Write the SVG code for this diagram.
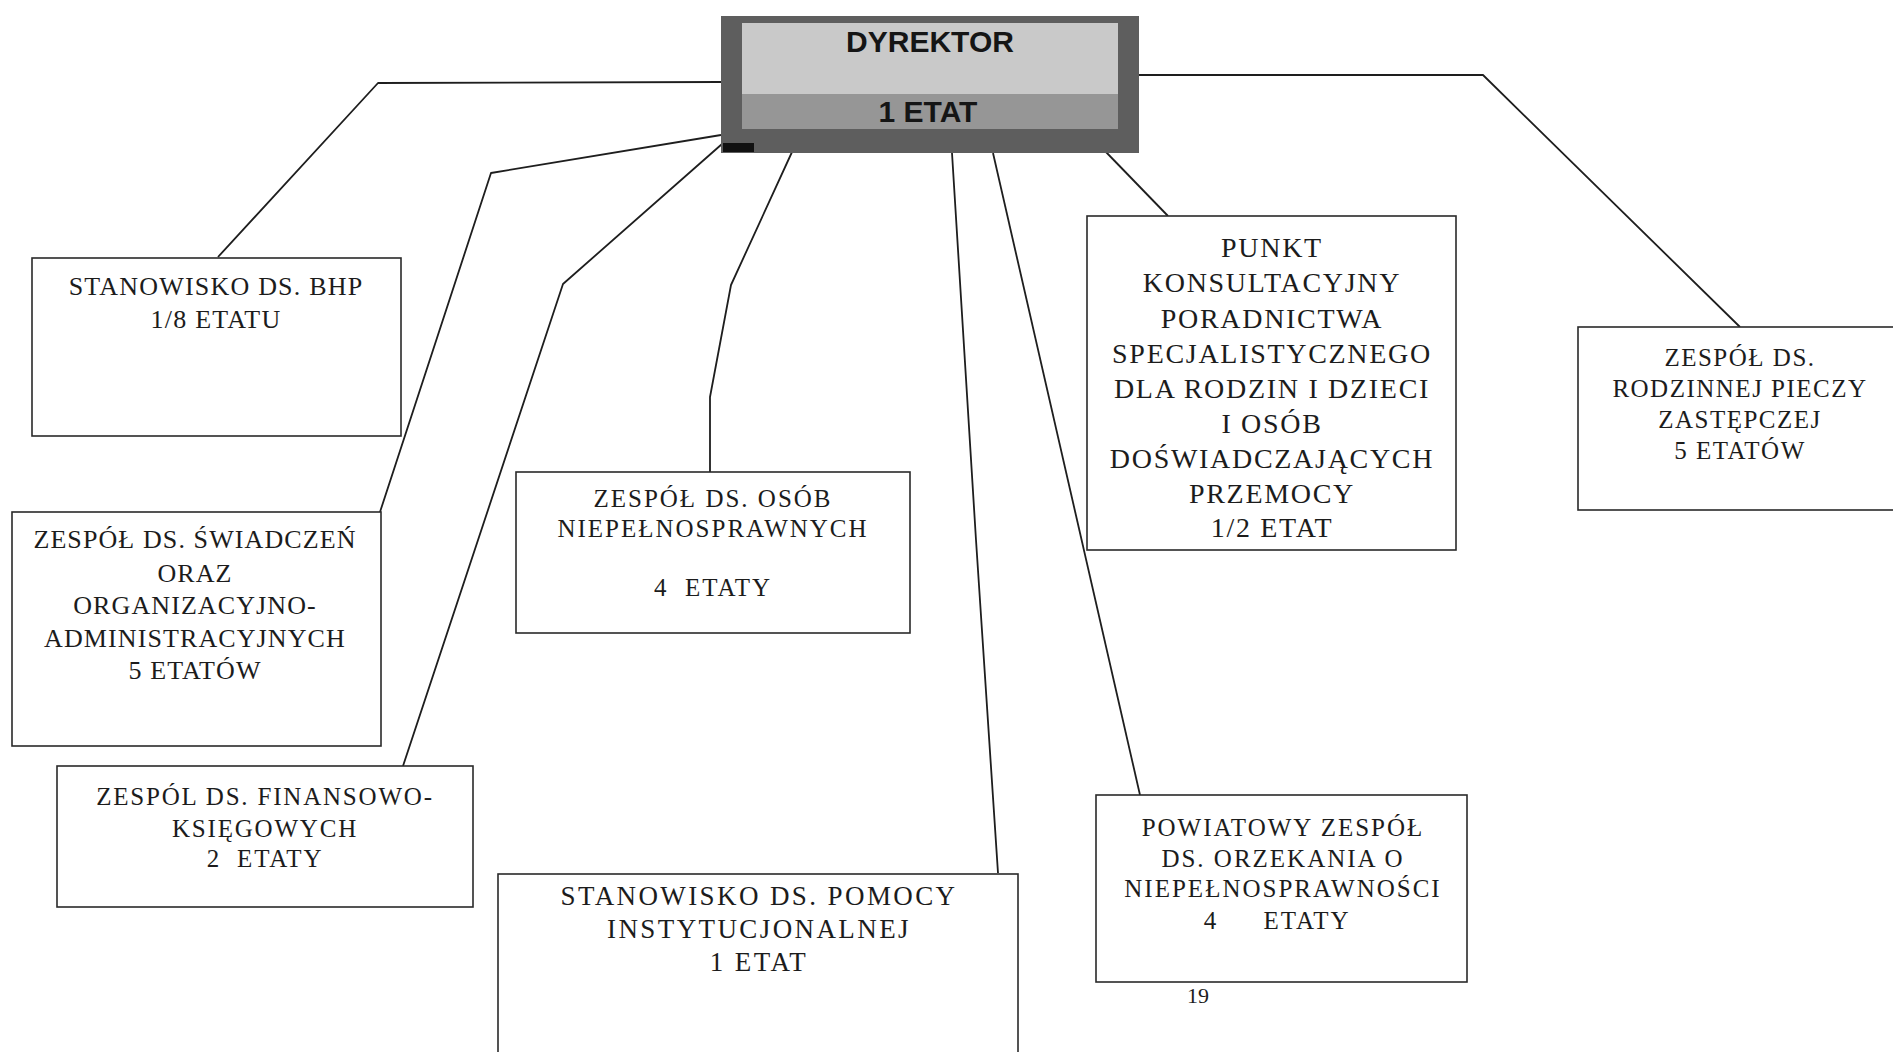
<svg xmlns="http://www.w3.org/2000/svg" width="1893" height="1052" viewBox="0 0 1893 1052">
<style>
.box{fill:#fff;stroke:#2a2a2a;stroke-width:1.6}
.ln{fill:none;stroke:#1e1e1e;stroke-width:1.8;stroke-linejoin:round}
.t{font-family:"Liberation Serif","Times New Roman",serif;fill:#1c1c1c;text-anchor:middle}
.d{font-family:"Liberation Sans",Arial,sans-serif;font-weight:bold;font-size:30px;fill:#151515;text-anchor:middle}
</style>
<rect width="1893" height="1052" fill="#fff"/>
<g id="connectors">
<path class="ln" d="M721,82 L378,83 L218,257"/>
<path class="ln" d="M721,135 L491,173 L380,512"/>
<path class="ln" d="M722,144 L563,284 L403,766"/>
<path class="ln" d="M792,152 L731,285 L710,397 L710,472"/>
<path class="ln" d="M952,153 L976,540 L998,873"/>
<path class="ln" d="M993,153 L1140,795"/>
<path class="ln" d="M1105,151 L1168,216"/>
<path class="ln" d="M1139,75 L1483,75 L1740,327"/>
</g>
<g id="dyrektor">
<rect x="721" y="16" width="418" height="137" fill="#5e5e5e"/>
<rect x="742" y="23" width="376" height="71" fill="#c9c9c9"/>
<rect x="742" y="94" width="376" height="35" fill="#969696"/>
<rect x="723" y="143" width="31" height="9" fill="#111"/>
<text class="d" x="930" y="52">DYREKTOR</text>
<text class="d" x="928" y="122">1 ETAT</text>
</g>
<g id="bhp">
<rect class="box" x="32" y="258" width="369" height="178"/>
<text class="t" style="font-size:26px;letter-spacing:1.2px"><tspan x="216" y="295">STANOWISKO DS. BHP</tspan><tspan x="216" y="328">1/8 ETATU</tspan></text>
</g>
<g id="swiadczen">
<rect class="box" x="12" y="512" width="369" height="234"/>
<text class="t" style="font-size:26px;letter-spacing:1.1px"><tspan x="195" y="548">ZESPÓŁ DS. ŚWIADCZEŃ</tspan><tspan x="195" y="582">ORAZ</tspan><tspan x="195" y="614">ORGANIZACYJNO-</tspan><tspan x="195" y="647">ADMINISTRACYJNYCH</tspan><tspan x="195" y="679">5 ETATÓW</tspan></text>
</g>
<g id="finansowe">
<rect class="box" x="57" y="766" width="416" height="141"/>
<text class="t" style="font-size:25px;letter-spacing:1.8px"><tspan x="265" y="805">ZESPÓL DS. FINANSOWO-</tspan><tspan x="265" y="837">KSIĘGOWYCH</tspan><tspan x="265" y="867" xml:space="preserve">2  ETATY</tspan></text>
</g>
<g id="osoby">
<rect class="box" x="516" y="472" width="394" height="161"/>
<text class="t" style="font-size:25px;letter-spacing:2px"><tspan x="713" y="507">ZESPÓŁ DS. OSÓB</tspan><tspan x="713" y="537">NIEPEŁNOSPRAWNYCH</tspan><tspan x="713" y="596" xml:space="preserve">4  ETATY</tspan></text>
</g>
<g id="pomoc">
<rect class="box" x="498" y="874" width="520" height="190"/>
<text class="t" style="font-size:27px;letter-spacing:2.4px"><tspan x="759" y="905">STANOWISKO DS. POMOCY</tspan><tspan x="759" y="938">INSTYTUCJONALNEJ</tspan><tspan x="759" y="971">1 ETAT</tspan></text>
</g>
<g id="punkt">
<rect class="box" x="1087" y="216" width="369" height="334"/>
<text class="t" style="font-size:28px;letter-spacing:1.7px"><tspan x="1272" y="257">PUNKT</tspan><tspan x="1272" y="292">KONSULTACYJNY</tspan><tspan x="1272" y="328">PORADNICTWA</tspan><tspan x="1272" y="363">SPECJALISTYCZNEGO</tspan><tspan x="1272" y="398">DLA RODZIN I DZIECI</tspan><tspan x="1272" y="433">I OSÓB</tspan><tspan x="1272" y="468">DOŚWIADCZAJĄCYCH</tspan><tspan x="1272" y="503">PRZEMOCY</tspan><tspan x="1272" y="537">1/2 ETAT</tspan></text>
</g>
<g id="orzekanie">
<rect class="box" x="1096" y="795" width="371" height="187"/>
<text class="t" style="font-size:25px;letter-spacing:2px"><tspan x="1283" y="836">POWIATOWY ZESPÓŁ</tspan><tspan x="1283" y="867">DS. ORZEKANIA O</tspan><tspan x="1283" y="897">NIEPEŁNOSPRAWNOŚCI</tspan><tspan x="1215" y="929">4</tspan> <tspan x="1307" y="929">ETATY</tspan></text>
</g>
<g id="piecza">
<rect class="box" x="1578" y="327" width="330" height="183"/>
<text class="t" style="font-size:25px;letter-spacing:1.5px"><tspan x="1740" y="366">ZESPÓŁ DS.</tspan><tspan x="1740" y="397">RODZINNEJ PIECZY</tspan><tspan x="1740" y="428">ZASTĘPCZEJ</tspan><tspan x="1740" y="459">5 ETATÓW</tspan></text>
</g>
<text class="t" style="font-size:22px" x="1198" y="1003">19</text>
</svg>
